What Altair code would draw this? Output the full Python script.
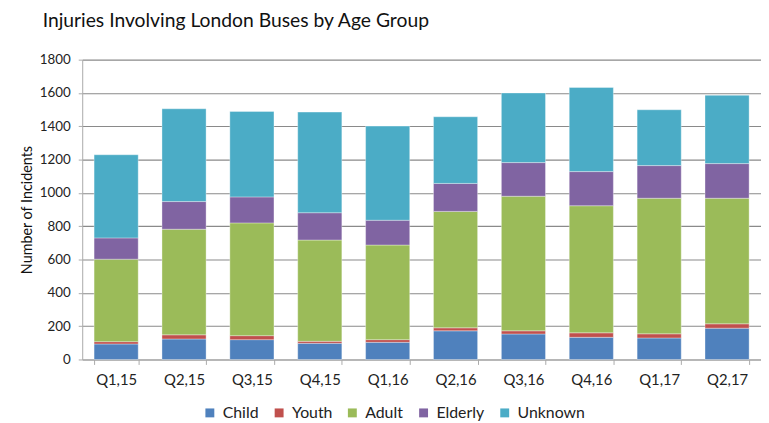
import altair as alt
import pandas as pd

quarters = ["Q1,15", "Q2,15", "Q3,15", "Q4,15", "Q1,16", "Q2,16", "Q3,16", "Q4,16", "Q1,17", "Q2,17"]
groups = ["Child", "Youth", "Adult", "Elderly", "Unknown"]
colors = ["#4F81BD", "#C0504D", "#9BBB59", "#8064A2", "#4BACC6"]

child = [93, 123, 119, 97, 103, 172, 153, 133, 129, 188]
youth = [14, 25, 24, 12, 16, 18, 19, 27, 25, 26]
adult = [495, 634, 677, 608, 568, 699, 808, 763, 814, 754]
elderly = [128, 166, 156, 164, 149, 168, 202, 205, 196, 208]
unknown = [499, 557, 513, 604, 565, 400, 418, 505, 335, 410]

series = [child, youth, adult, elderly, unknown]
rows = []
for gi, (g, vals) in enumerate(zip(groups, series)):
    for q, v in zip(quarters, vals):
        rows.append({"Quarter": q, "Group": g, "Incidents": v, "idx": gi})
df = pd.DataFrame(rows)

FONT = "Lato"

chart = alt.Chart(df).mark_bar(
    stroke="white", strokeWidth=1, strokeOpacity=0.35
).encode(
    x=alt.X("Quarter:N", sort=quarters, title=None,
            scale=alt.Scale(paddingInner=0.35, paddingOuter=0.175),
            axis=alt.Axis(labelAngle=0, labelFontSize=15, labelColor="#222",
                          labelFont=FONT, labelPadding=8, tickSize=5,
                          tickColor="#aaa", domainColor="#aaa", tickBand="extent",
                          grid=False)),
    y=alt.Y("Incidents:Q", title="Number of Incidents",
            scale=alt.Scale(domain=[0, 1800]),
            axis=alt.Axis(values=list(range(0, 1801, 200)), format="d", labelFontSize=13.5,
                          labelFont=FONT, labelColor="#222", tickSize=4,
                          tickColor="#aaa", domainColor="#aaa", gridColor="#8a8a8a",
                          gridWidth=1.1, labelPadding=8, titleFontSize=14.5,
                          titleFont=FONT, titleFontWeight="normal", titleColor="#111",
                          titlePadding=5)),
    color=alt.Color("Group:N", scale=alt.Scale(domain=groups, range=colors),
                    legend=alt.Legend(title=None, orient="none", direction="horizontal",
                                      legendX=121, legendY=349, symbolType="square",
                                      symbolSize=81, symbolStrokeWidth=0,
                                      labelFontSize=16, labelFont=FONT, labelColor="#222",
                                      columnPadding=12, labelOffset=5)),
    order=alt.Order("idx:Q", sort="ascending"),
).properties(
    width=686, height=303,
    title=alt.TitleParams("Injuries Involving London Buses by Age Group", anchor="start",
                          frame="group", dx=-40, fontSize=19.5, font=FONT,
                          fontWeight="normal", color="#111", offset=21),
    padding={"left": 75, "top": 50, "right": 0, "bottom": 62},
    autosize=alt.AutoSizeParams(type="none"),
).configure_view(stroke=None)

chart.save("out.html", embed_options={"renderer": "svg", "actions": False})
